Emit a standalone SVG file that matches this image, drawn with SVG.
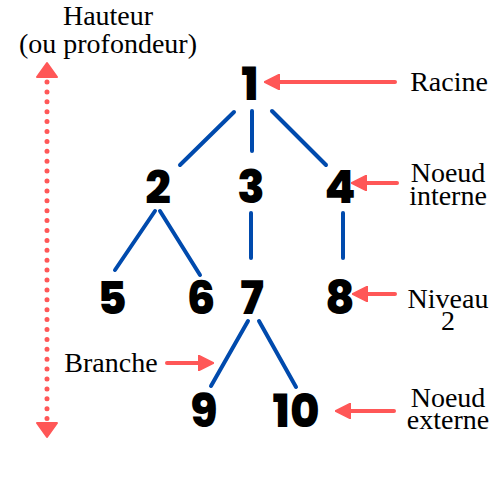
<svg xmlns="http://www.w3.org/2000/svg" width="500" height="500" viewBox="0 0 500 500">
<style>
.edge{stroke:#004AAD;stroke-width:4;stroke-linecap:round;fill:none}
.ann{stroke:#FF5757;stroke-width:4;stroke-linecap:round;fill:none}
</style>
<defs>
<marker id="ah" viewBox="0 0 10 10" refX="2" refY="5" markerWidth="4" markerHeight="4" orient="auto" markerUnits="strokeWidth">
<path d="M0,0 L10,5 L0,10 Z" fill="#FF5757" stroke="#FF5757" stroke-width="1" stroke-linejoin="round"/>
</marker>
</defs>
<rect width="500" height="500" fill="#fff"/>
<g id="connectors">
<line class="edge" x1="234" y1="112" x2="180" y2="165"/>
<line class="edge" x1="252" y1="111" x2="252" y2="151"/>
<line class="edge" x1="272" y1="111" x2="326" y2="165"/>
<line class="edge" x1="155" y1="211" x2="115" y2="270"/>
<line class="edge" x1="160" y1="211" x2="200" y2="275"/>
<line class="edge" x1="251" y1="213" x2="251" y2="258"/>
<line class="edge" x1="343" y1="213" x2="343" y2="258"/>
<line class="edge" x1="248" y1="321" x2="211" y2="386"/>
<line class="edge" x1="259" y1="321" x2="296" y2="387"/>
</g>
<g id="nodes" font-family="Poppins, Lato, sans-serif" font-weight="800" font-size="45" fill="#000" text-anchor="middle">
<g id="n1"><text x="250" y="100">1</text></g>
<g id="n2"><text x="158" y="203">2</text></g>
<g id="n3"><text x="251" y="203">3</text></g>
<g id="n4"><text x="340" y="203">4</text></g>
<g id="n5"><text x="112" y="314">5</text></g>
<g id="n6"><text x="201" y="314">6</text></g>
<g id="n7"><text x="252" y="314">7</text></g>
<g id="n8"><text x="340" y="314">8</text></g>
<g id="n9"><text x="204" y="427">9</text></g>
<g id="n10"><text x="296" y="427">10</text></g>
</g>
<g id="annotations">
<line class="ann" x1="395" y1="82" x2="277" y2="82" marker-end="url(#ah)"/>
<line class="ann" x1="397" y1="183" x2="364" y2="183" marker-end="url(#ah)"/>
<line class="ann" x1="395" y1="294" x2="365" y2="294" marker-end="url(#ah)"/>
<line class="ann" x1="167" y1="363" x2="201" y2="363" marker-end="url(#ah)"/>
<line class="ann" x1="394" y1="411" x2="348" y2="411" marker-end="url(#ah)"/>
<line x1="47" y1="82" x2="47" y2="420" stroke="#FF5757" stroke-width="5" stroke-linecap="round" stroke-dasharray="0 9.9"/>
<path d="M47,63 L57,77 L37,77 Z" fill="#FF5757" stroke="#FF5757" stroke-width="2" stroke-linejoin="round"/>
<path d="M47,437 L57,423 L37,423 Z" fill="#FF5757" stroke="#FF5757" stroke-width="2" stroke-linejoin="round"/>
</g>
<g id="labels" fill="#000" text-anchor="middle" font-family="Liberation Serif" font-size="28">
<text x="108" y="25">Hauteur</text>
<text x="108" y="53">(ou profondeur)</text>
<text x="449" y="91">Racine</text>
<text x="448" y="182">Noeud</text>
<text x="448" y="205">interne</text>
<text x="448" y="308">Niveau</text>
<text x="448" y="330">2</text>
<text x="111" y="372">Branche</text>
<text x="448" y="407">Noeud</text>
<text x="448" y="429">externe</text>
</g>
</svg>
